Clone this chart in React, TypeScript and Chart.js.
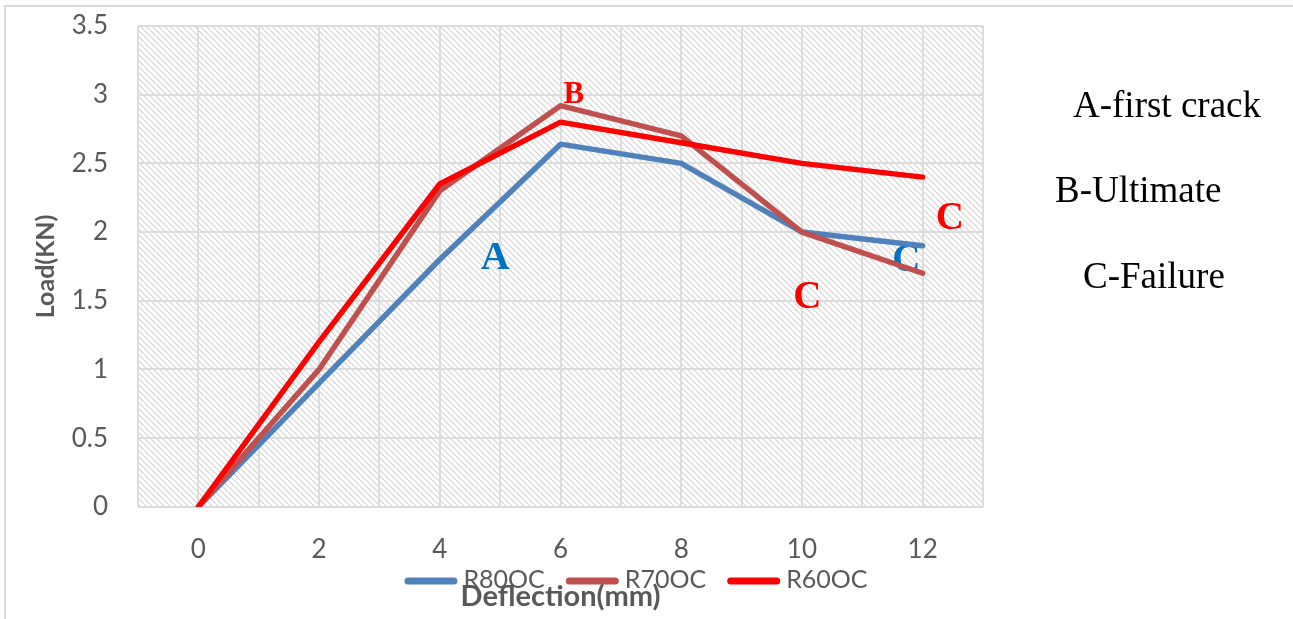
import React, { useEffect, useRef } from 'react';
import { Chart, registerables } from 'chart.js';

Chart.register(...registerables);

// ---- data ----
const deflection = [0, 2, 4, 6, 8, 10, 12];
const r80oc = [0, 0.9, 1.8, 2.64, 2.5, 2.0, 1.9];
const r70oc = [0, 1.0, 2.3, 2.92, 2.7, 2.0, 1.7];
const r60oc = [0, 1.2, 2.35, 2.8, 2.65, 2.5, 2.4];
const seriesNames = ['R80OC', 'R70OC', 'R60OC'];
const seriesColors = ['#4F81BD', '#C0504D', '#FF0000'];
const xTickLabels = [0, 2, 4, 6, 8, 10, 12];

// point labels (A / B / C) placed in data coordinates
const markLetters = ['A', 'B', 'C', 'C', 'C'];
const markX = [4.92, 6.22, 10.09, 11.73, 12.45];
const markY = [1.73, 2.94, 1.45, 1.72, 2.02];
const markColors = ['#0070C0', '#FF0000', '#FF0000', '#0070C0', '#FF0000'];
const markSizes = [40, 31, 39, 39, 39];

const noteTexts = ['A-first crack', 'B-Ultimate', 'C-Failure'];

const TEXT = '#595959';
const SANS = 'Lato, "Open Sans", sans-serif';
const SERIF = '"Liberation Serif", "DejaVu Serif", serif';

function makeHatch(): CanvasPattern | string {
  const p = 6;
  const c = document.createElement('canvas');
  c.width = p;
  c.height = p;
  const g = c.getContext('2d');
  if (!g) return '#f2f2f2';
  g.fillStyle = '#ffffff';
  g.fillRect(0, 0, p, p);
  g.strokeStyle = '#d4d4d4';
  g.lineWidth = 1.2;
  g.beginPath();
  for (const x0 of [-p, 0, p]) {
    g.moveTo(x0, 0);
    g.lineTo(x0 + p, p);
  }
  g.stroke();
  const pat = g.createPattern(c, 'repeat');
  return pat || '#f2f2f2';
}

export default function App() {
  const ref = useRef<HTMLCanvasElement | null>(null);

  useEffect(() => {
    document.body.style.margin = '0';
    const canvas = ref.current;
    if (!canvas) return;
    const hatch = makeHatch();

    const bgPlugin = {
      id: 'bgPlugin',
      beforeDraw(chart: any) {
        const { ctx, chartArea: a } = chart;
        ctx.save();
        ctx.fillStyle = '#ffffff';
        ctx.fillRect(0, 0, chart.width, chart.height);
        ctx.fillStyle = hatch;
        ctx.fillRect(a.left, a.top, a.right - a.left, a.bottom - a.top);
        ctx.strokeStyle = '#d9d9d9';
        ctx.lineWidth = 2;
        ctx.strokeRect(5, 6, 1400, 800);
        ctx.restore();
      },
      beforeDatasetsDraw(chart: any) {
        const { ctx } = chart;
        const xs = chart.scales.x;
        const ys = chart.scales.y;
        ctx.save();
        ctx.textAlign = 'center';
        ctx.textBaseline = 'alphabetic';
        markLetters.forEach((t, i) => {
          ctx.font = `bold ${markSizes[i]}px ${SERIF}`;
          ctx.fillStyle = markColors[i];
          ctx.fillText(t, xs.getPixelForValue(markX[i]), ys.getPixelForValue(markY[i]));
        });
        ctx.restore();
      },
      afterDraw(chart: any) {
        const { ctx, chartArea: a } = chart;
        ctx.save();
        // side notes
        ctx.fillStyle = '#000000';
        ctx.font = `37px ${SERIF}`;
        ctx.textAlign = 'left';
        ctx.textBaseline = 'alphabetic';
        ctx.fillText(noteTexts[0], 1073, 117);
        ctx.fillText(noteTexts[1], 1055, 202);
        ctx.fillText(noteTexts[2], 1083, 288);

        // legend (line swatches + names)
        ctx.font = `25px ${SANS}`;
        ctx.textBaseline = 'middle';
        const swatch = 46;
        const capPad = 3.5;
        const gapText = 6;
        const gapItem = 21;
        const widths = seriesNames.map((n) => ctx.measureText(n).width);
        const total =
          widths.reduce((s, w) => s + w, 0) +
          seriesNames.length * (swatch + 2 * capPad + gapText) +
          (seriesNames.length - 1) * gapItem;
        let x = 636 - total / 2;
        const ly = 580;
        seriesNames.forEach((n, i) => {
          ctx.strokeStyle = seriesColors[i];
          ctx.lineWidth = 7;
          ctx.lineCap = 'round';
          ctx.beginPath();
          ctx.moveTo(x + capPad, ly + 1);
          ctx.lineTo(x + capPad + swatch, ly + 1);
          ctx.stroke();
          x += swatch + 2 * capPad + gapText;
          ctx.fillStyle = TEXT;
          ctx.fillText(n, x, ly);
          x += widths[i] + gapItem;
        });

        // x axis title (overlaps legend as in the original)
        ctx.fillStyle = TEXT;
        ctx.font = `bold 29px ${SANS}`;
        ctx.textAlign = 'center';
        ctx.textBaseline = 'middle';
        ctx.fillText('Deflection(mm)', (a.left + a.right) / 2, 597);
        ctx.restore();
      },
    };

    const series = [r80oc, r70oc, r60oc];
    const chart = new Chart(canvas, {
      type: 'line',
      data: {
        datasets: series.map((vals, i) => ({
          label: seriesNames[i],
          data: deflection.map((x, j) => ({ x, y: vals[j] })),
          borderColor: seriesColors[i],
          backgroundColor: seriesColors[i],
          borderWidth: 5.5,
          pointRadius: 0,
          borderCapStyle: 'round' as const,
          borderJoinStyle: 'round' as const,
          tension: 0,
          fill: false,
          order: 2 - i,
          yAxisID: 'y',
        })),
      },
      options: {
        animation: false,
        responsive: false,
        layout: { padding: { left: 0, right: 20, top: 26, bottom: 27 } },
        plugins: {
          legend: { display: false },
          tooltip: { enabled: false },
        },
        scales: {
          x: {
            type: 'linear',
            min: -1,
            max: 13,
            border: { display: false },
            grid: { color: '#dcdcdc', lineWidth: 2, drawTicks: false },
            ticks: {
              stepSize: 1,
              autoSkip: false,
              maxRotation: 0,
              padding: 27,
              color: TEXT,
              font: { family: SANS, size: 26 },
              callback: (v: any) => (xTickLabels.includes(Number(v)) ? String(v) : ''),
            },
          },
          y: {
            type: 'linear',
            position: 'left',
            min: 0,
            max: 3.5,
            border: { display: false },
            grid: {
              color: '#dcdcdc',
              lineWidth: 2,
              drawTicks: true,
              tickLength: 28,
              tickColor: 'rgba(0,0,0,0)',
            },
            ticks: {
              stepSize: 0.5,
              padding: 2,
              color: TEXT,
              font: { family: SANS, size: 26 },
              callback: (v: any) => String(Number(v)),
            },
            title: {
              display: true,
              text: 'Load(KN)',
              color: TEXT,
              font: { family: SANS, size: 25, weight: 'bold' },
              padding: { top: 31, bottom: 0 },
            },
            afterFit: (s: any) => {
              s.width = 138;
            },
          },
          y2: {
            type: 'linear',
            position: 'right',
            display: true,
            border: { display: false },
            grid: { display: false, drawTicks: false },
            ticks: { display: false },
            afterFit: (s: any) => {
              s.width = 290;
            },
          },
        },
      },
      plugins: [bgPlugin],
    } as any);

    return () => {
      chart.destroy();
    };
  }, []);

  return (
    <div style={{ width: 1293, height: 619, position: 'relative' }}>
      <canvas ref={ref} width={1293} height={619} style={{ display: 'block' }} />
    </div>
  );
}
